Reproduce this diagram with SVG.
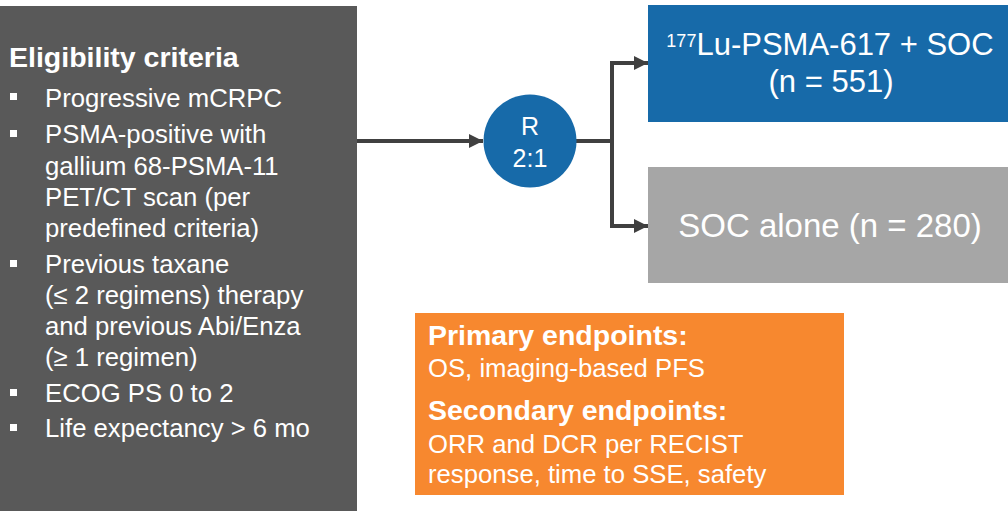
<svg xmlns="http://www.w3.org/2000/svg" width="1008" height="511" viewBox="0 0 1008 511">
  <style>
    text { font-family: "Liberation Sans", Arial, sans-serif; fill: #ffffff; }
    .title { font-size: 28.5px; font-weight: bold; }
    .item { font-size: 25.7px; }
    .arm { font-size: 33px; text-anchor: middle; }
    .arm-lu { font-size: 31px; text-anchor: middle; }
    .rnd { font-size: 25px; text-anchor: middle; }
    .conn { fill: none; stroke: #404040; stroke-width: 4; stroke-linejoin: miter; }
    .bullet { fill: #ffffff; }
  </style>
  <defs>
    <marker id="arrow" markerUnits="userSpaceOnUse" markerWidth="14" markerHeight="14" refX="14" refY="7" orient="auto">
      <path d="M0,0 L14,7 L0,14 z" fill="#404040"/>
    </marker>
  </defs>
  <rect width="1008" height="511" fill="#ffffff"/>

  <g id="eligibility">
    <rect x="0" y="6" width="357" height="505" fill="#595959"/>
    <text class="title" x="9" y="67">Eligibility criteria</text>
    <rect class="bullet" x="10" y="93" width="7" height="7"/>
    <text class="item" x="45" y="107">Progressive mCRPC</text>
    <rect class="bullet" x="10" y="130" width="7" height="7"/>
    <text class="item" x="45" y="143">PSMA-positive with</text>
    <text class="item" x="45" y="175">gallium 68-PSMA-11</text>
    <text class="item" x="45" y="206">PET/CT scan (per</text>
    <text class="item" x="45" y="237">predefined criteria)</text>
    <rect class="bullet" x="10" y="260" width="7" height="7"/>
    <text class="item" x="45" y="273">Previous taxane</text>
    <text class="item" x="45" y="304">(≤ 2 regimens) therapy</text>
    <text class="item" x="45" y="335">and previous Abi/Enza</text>
    <text class="item" x="45" y="366">(≥ 1 regimen)</text>
    <rect class="bullet" x="10" y="389" width="7" height="7"/>
    <text class="item" x="45" y="402">ECOG PS 0 to 2</text>
    <rect class="bullet" x="10" y="424" width="7" height="7"/>
    <text class="item" x="45" y="437">Life expectancy &gt; 6 mo</text>
  </g>

  <g id="connectors">
    <path class="conn" d="M357 141 H483" marker-end="url(#arrow)"/>
    <path class="conn" d="M576 141 H612"/>
    <path class="conn" d="M612 141 V63 H648" marker-end="url(#arrow)"/>
    <path class="conn" d="M612 141 V226 H648" marker-end="url(#arrow)"/>
  </g>

  <g id="randomization">
    <circle cx="530" cy="141" r="46.5" fill="#176aa9"/>
    <text class="rnd" x="530" y="135">R</text>
    <text class="rnd" x="530" y="167">2:1</text>
  </g>

  <g id="arm-lu">
    <rect x="648" y="5" width="360" height="117" fill="#176aa9"/>
    <text class="arm-lu" x="830" y="55"><tspan font-size="18" dy="-8">177</tspan><tspan dy="8">Lu-PSMA-617 + SOC</tspan></text>
    <text class="arm-lu" x="831" y="92">(n = 551)</text>
  </g>

  <g id="arm-soc">
    <rect x="648" y="167" width="360" height="116" fill="#a6a6a6"/>
    <text class="arm" x="830" y="237">SOC alone (n = 280)</text>
  </g>

  <g id="endpoints">
    <rect x="415" y="313" width="429" height="182" fill="#f7882f"/>
    <text class="title" x="428" y="345">Primary endpoints:</text>
    <text class="item" x="428" y="377">OS, imaging-based PFS</text>
    <text class="title" x="428" y="420">Secondary endpoints:</text>
    <text class="item" x="428" y="453">ORR and DCR per RECIST</text>
    <text class="item" x="428" y="483">response, time to SSE, safety</text>
  </g>
</svg>
